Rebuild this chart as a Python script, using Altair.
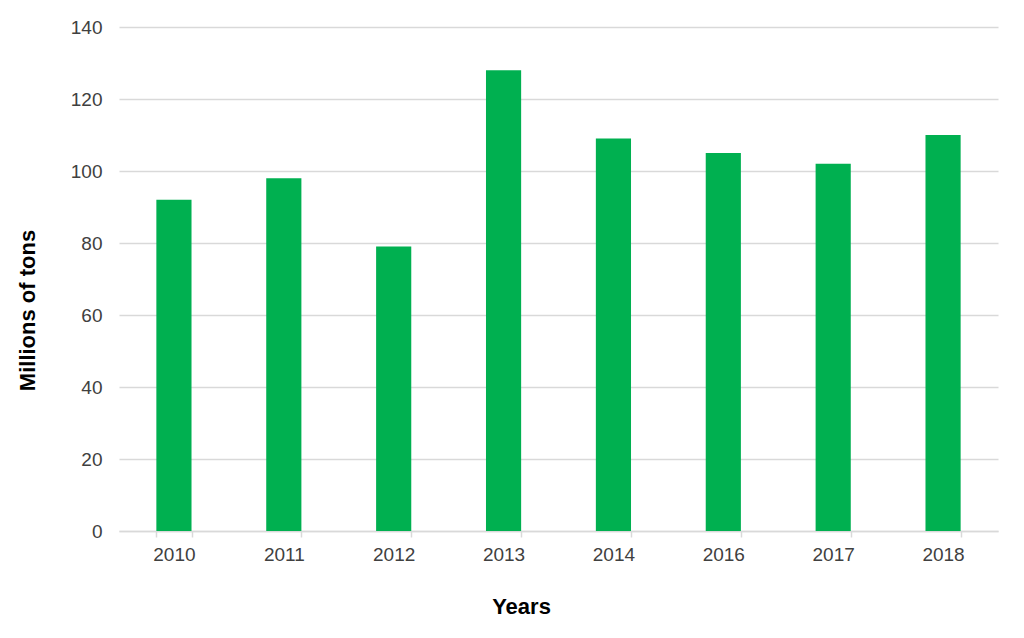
import altair as alt
import pandas as pd

years = ["2010", "2011", "2012", "2013", "2014", "2016", "2017", "2018"]
values = [92, 98, 79, 128, 109, 105, 102, 110]

df = pd.DataFrame({"Year": years, "Value": values})

FONT = "Liberation Sans"

chart = alt.Chart(df).mark_bar(color="#00B050").encode(
    x=alt.X(
        "Year:N",
        sort=years,
        scale=alt.Scale(paddingInner=0.68, paddingOuter=0.34),
        axis=alt.Axis(
            title="Years",
            labelAngle=0,
            tickBand="extent",
            tickSize=6,
            tickColor="#D9D9D9",
            tickWidth=1.5,
            domainColor="#D9D9D9",
            domainWidth=1.5,
            labelPadding=8,
            grid=False,
            titleX=402,
            titleY=75,
            titleBaseline="middle",
        ),
    ),
    y=alt.Y(
        "Value:Q",
        scale=alt.Scale(domain=[0, 140]),
        axis=alt.Axis(
            title="Millions of tons",
            values=[0, 20, 40, 60, 80, 100, 120, 140],
            domain=False,
            ticks=False,
            labelPadding=17,
            gridColor="#D9D9D9",
            gridWidth=1.5,
            titleAngle=-90,
            titleBaseline="middle",
            titleX=-92,
            titleY=283,
        ),
    ),
).properties(
    width=879,
    height=504,
    autosize=alt.AutoSizeParams(type="none"),
    padding={"left": 111, "top": 19, "right": 18, "bottom": 100},
).configure_axis(
    labelFont=FONT,
    labelFontSize=19,
    labelColor="#404040",
    titleFont=FONT,
    titleFontSize=22,
    titleFontWeight="bold",
    titleColor="#000000",
).configure_view(stroke=None)

chart.save("out.html", embed_options={"renderer": "svg", "actions": False})
